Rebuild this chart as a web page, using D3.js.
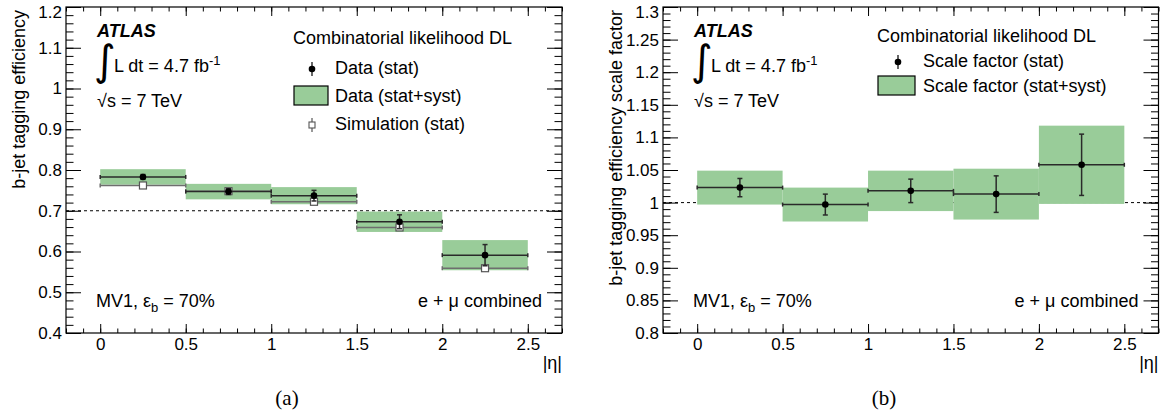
<!DOCTYPE html>
<html>
<head>
<meta charset="utf-8">
<script src="https://cdn.jsdelivr.net/npm/d3@7"></script>
<style>
    body { margin: 0; background: #ffffff; }
    svg text { font-family: "Liberation Sans", Arial, Helvetica, sans-serif; fill: #000; }
</style>
</head>
<body>
<div id="chart"></div>
<script>

// |eta| bin edges (shared by both panels)
const etaEdges = [0, 0.5, 1.0, 1.5, 2.0, 2.5];

// (a) b-jet tagging efficiency
const effData = [0.783, 0.747, 0.737, 0.673, 0.591];
const effDataStat = [0.006, 0.007, 0.013, 0.017, 0.026];
const effDataTot = [0.019, 0.019, 0.021, 0.025, 0.037];
const effSim = [0.762, 0.748, 0.722, 0.659, 0.559];
const effSimStat = [0.003, 0.003, 0.003, 0.004, 0.004];

// (b) scale factor
const sfData = [1.023, 0.997, 1.018, 1.013, 1.058];
const sfStat = [0.014, 0.016, 0.018, 0.028, 0.047];
const sfTot = [0.026, 0.026, 0.031, 0.039, 0.060];

// axis tick values
const xMajorTicks = [0, 0.5, 1, 1.5, 2, 2.5];
const effTicks = [0.4, 0.5, 0.6, 0.7, 0.8, 0.9, 1.0, 1.1, 1.2];
const sfTicks = [0.8, 0.85, 0.9, 0.95, 1.0, 1.05, 1.1, 1.15, 1.2, 1.25, 1.3];


class BinnedPanel {

    constructor(svg, cfg) {
        this.svg = svg;
        this.cfg = cfg;
        this.initVis();
    }

    initVis() {
        let vis = this;
        let cfg = vis.cfg;

        vis.width = cfg.width;
        vis.height = cfg.height;

        vis.g = vis.svg.append('g')
            .attr('transform', `translate(${cfg.left}, ${cfg.top})`);

        vis.x = d3.scaleLinear().domain([-0.2, 2.7]).range([0, vis.width]);
        vis.y = d3.scaleLinear().domain(cfg.yDomain).range([vis.height, 0]);

        vis.drawAxes();
        vis.drawData();
        vis.drawTexts();
        vis.drawLegend();
    }

    drawAxes() {
        let vis = this;
        let cfg = vis.cfg;

        let xMinor = d3.range(-2, 28).map(i => i / 10);
        let yMinor = d3.range(0, Math.round((cfg.yDomain[1] - cfg.yDomain[0]) / cfg.yMinorStep) + 1)
            .map(i => cfg.yDomain[0] + i * cfg.yMinorStep);

        let clean = g => g.select('.domain').remove();
        let tickStyle = g => g.selectAll('line').attr('stroke', '#000').attr('stroke-width', 1);

        // minor ticks on four sides
        vis.g.append('g').call(d3.axisLeft(vis.y).tickValues(yMinor).tickSizeInner(-7.5).tickFormat('')).call(clean).call(tickStyle);
        vis.g.append('g').attr('transform', `translate(${vis.width},0)`)
            .call(d3.axisRight(vis.y).tickValues(yMinor).tickSizeInner(-7.5).tickFormat('')).call(clean).call(tickStyle);
        vis.g.append('g').attr('transform', `translate(0,${vis.height})`)
            .call(d3.axisBottom(vis.x).tickValues(xMinor).tickSizeInner(-4.5).tickFormat('')).call(clean).call(tickStyle);
        vis.g.append('g')
            .call(d3.axisTop(vis.x).tickValues(xMinor).tickSizeInner(-4.5).tickFormat('')).call(clean).call(tickStyle);

        // major ticks + labels
        let yAxisG = vis.g.append('g')
            .call(d3.axisLeft(vis.y).tickValues(cfg.yTicks).tickSizeInner(-15).tickPadding(4).tickFormat(d => String(+d.toFixed(2))))
            .call(clean).call(tickStyle)
            .attr('font-size', 17).attr('font-family', null);
        // keep the top label inside the picture
        yAxisG.selectAll('.tick text')
            .filter(d => d === cfg.yTicks[cfg.yTicks.length - 1])
            .attr('dy', '0.62em');

        vis.g.append('g').attr('transform', `translate(${vis.width},0)`)
            .call(d3.axisRight(vis.y).tickValues(cfg.yTicks).tickSizeInner(-15).tickFormat(''))
            .call(clean).call(tickStyle);
        vis.g.append('g').attr('transform', `translate(0,${vis.height})`)
            .call(d3.axisBottom(vis.x).tickValues(xMajorTicks).tickSizeInner(-9).tickPadding(5).tickFormat(d => String(d)))
            .call(clean).call(tickStyle)
            .attr('font-size', 17).attr('font-family', null);
        vis.g.append('g')
            .call(d3.axisTop(vis.x).tickValues(xMajorTicks).tickSizeInner(-9).tickFormat(''))
            .call(clean).call(tickStyle);

        // frame
        vis.g.append('rect')
            .attr('width', vis.width)
            .attr('height', vis.height)
            .attr('fill', 'none')
            .attr('stroke', '#000')
            .attr('stroke-width', 1.2);

        // axis titles
        vis.g.append('text')
            .attr('transform', `translate(-41, 3) rotate(-90)`)
            .attr('text-anchor', 'end')
            .attr('font-size', 18)
            .text(cfg.yTitle);

        vis.g.append('text')
            .attr('x', vis.width)
            .attr('y', 362)
            .attr('text-anchor', 'end')
            .attr('font-size', 18)
            .text('|η|');
    }

    drawData() {
        let vis = this;
        let cfg = vis.cfg;
        let bins = etaEdges.slice(0, -1).map((lo, i) => ({lo: lo, hi: etaEdges[i + 1], mid: (lo + etaEdges[i + 1]) / 2, i: i}));

        // reference dashed line
        vis.g.append('line')
            .attr('x1', 0).attr('x2', vis.width)
            .attr('y1', vis.y(cfg.refLine)).attr('y2', vis.y(cfg.refLine))
            .attr('stroke', '#000')
            .attr('stroke-width', 1)
            .attr('stroke-dasharray', '3,3');

        // stat+syst bands
        vis.g.selectAll('rect.band').data(bins).enter().append('rect')
            .attr('class', 'band')
            .attr('x', d => vis.x(d.lo))
            .attr('width', d => vis.x(d.hi) - vis.x(d.lo))
            .attr('y', d => vis.y(cfg.values[d.i] + cfg.tot[d.i]))
            .attr('height', d => vis.y(cfg.values[d.i] - cfg.tot[d.i]) - vis.y(cfg.values[d.i] + cfg.tot[d.i]))
            .attr('fill', '#99cc99');

        // simulation (only panel a)
        if (cfg.sim) {
            vis.drawErrorBars(bins, cfg.sim, cfg.simStat, '#6e6e6e');
            vis.g.selectAll('rect.simMarker').data(bins).enter().append('rect')
                .attr('class', 'simMarker')
                .attr('x', d => vis.x(d.mid) - 3.5)
                .attr('y', d => vis.y(cfg.sim[d.i]) - 3.5)
                .attr('width', 7).attr('height', 7)
                .attr('fill', '#fff')
                .attr('stroke', '#555')
                .attr('stroke-width', 1.2);
        }

        vis.drawErrorBars(bins, cfg.values, cfg.stat, '#2a2a2a');
        vis.g.selectAll('circle.dataMarker').data(bins).enter().append('circle')
            .attr('class', 'dataMarker')
            .attr('cx', d => vis.x(d.mid))
            .attr('cy', d => vis.y(cfg.values[d.i]))
            .attr('r', 3.3)
            .attr('fill', '#000');
    }

    drawErrorBars(bins, vals, errs, color) {
        let vis = this;
        let grp = vis.g.append('g').attr('stroke', color).attr('stroke-width', 1.5);

        bins.forEach(d => {
            let cy = vis.y(vals[d.i]);
            let x0 = vis.x(d.lo), x1 = vis.x(d.hi), xm = vis.x(d.mid);
            let yt = vis.y(vals[d.i] + errs[d.i]), yb = vis.y(vals[d.i] - errs[d.i]);
            grp.append('line').attr('x1', x0).attr('x2', x1).attr('y1', cy).attr('y2', cy);
            grp.append('line').attr('x1', x0).attr('x2', x0).attr('y1', cy - 2).attr('y2', cy + 2);
            grp.append('line').attr('x1', x1).attr('x2', x1).attr('y1', cy - 2).attr('y2', cy + 2);
            grp.append('line').attr('x1', xm).attr('x2', xm).attr('y1', yt).attr('y2', yb);
            grp.append('line').attr('x1', xm - 2.5).attr('x2', xm + 2.5).attr('y1', yt).attr('y2', yt);
            grp.append('line').attr('x1', xm - 2.5).attr('x2', xm + 2.5).attr('y1', yb).attr('y2', yb);
        });
    }

    drawTexts() {
        let vis = this;

        vis.g.append('text')
            .attr('x', 31).attr('y', 30)
            .attr('font-size', 18)
            .attr('font-weight', 'bold')
            .attr('font-style', 'italic')
            .text('ATLAS');

        vis.g.append('text')
            .attr('x', 28).attr('y', 68)
            .attr('font-size', 42)
            .style('font-family', '"DejaVu Sans", sans-serif')
            .text('∫');

        let lumi = vis.g.append('text')
            .attr('x', 48).attr('y', 65)
            .attr('font-size', 18);
        lumi.append('tspan').text('L dt = 4.7 fb');
        lumi.append('tspan').attr('dy', -7).attr('font-size', 13).text('-1');

        vis.g.append('text')
            .attr('x', 31).attr('y', 100)
            .attr('font-size', 18)
            .text('√s = 7 TeV');

        let mv1 = vis.g.append('text')
            .attr('x', 30).attr('y', 300)
            .attr('font-size', 18);
        mv1.append('tspan').text('MV1, ε');
        mv1.append('tspan').attr('dy', 5).attr('font-size', 13).text('b');
        mv1.append('tspan').attr('dy', -5).text(' = 70%');

        vis.g.append('text')
            .attr('x', vis.width - 20).attr('y', 300)
            .attr('text-anchor', 'end')
            .attr('font-size', 18)
            .text('e + μ combined');

        vis.g.append('text')
            .attr('x', 221).attr('y', 398)
            .attr('text-anchor', 'middle')
            .attr('font-size', 21)
            .style('font-family', '"Liberation Serif", "Times New Roman", serif')
            .text(vis.cfg.label);
    }

    drawLegend() {
        let vis = this;
        let lg = vis.cfg.legend;
        let leg = vis.g.append('g');

        leg.append('text')
            .attr('x', lg.titleX).attr('y', lg.titleY)
            .attr('font-size', 18)
            .text('Combinatorial likelihood DL');

        lg.entries.forEach(e => {
            if (e.type === 'data') {
                leg.append('line')
                    .attr('x1', lg.markerX).attr('x2', lg.markerX)
                    .attr('y1', e.y - 12).attr('y2', e.y + 2)
                    .attr('stroke', '#000').attr('stroke-width', 1.2);
                leg.append('circle')
                    .attr('cx', lg.markerX).attr('cy', e.y - 5)
                    .attr('r', 3.3).attr('fill', '#000');
            } else if (e.type === 'band') {
                leg.append('rect')
                    .attr('x', lg.boxX).attr('y', e.y - 16)
                    .attr('width', lg.boxW).attr('height', 19)
                    .attr('fill', '#99cc99')
                    .attr('stroke', '#000').attr('stroke-width', 1.2);
            } else {
                leg.append('line')
                    .attr('x1', lg.markerX).attr('x2', lg.markerX)
                    .attr('y1', e.y - 12).attr('y2', e.y + 2)
                    .attr('stroke', '#555').attr('stroke-width', 1.2);
                leg.append('rect')
                    .attr('x', lg.markerX - 3).attr('y', e.y - 8)
                    .attr('width', 6).attr('height', 6)
                    .attr('fill', '#fff').attr('stroke', '#555').attr('stroke-width', 1.1);
            }
            leg.append('text')
                .attr('x', lg.textX).attr('y', e.y)
                .attr('font-size', 18)
                .text(e.text);
        });
    }
}


let svg = d3.select('#chart').append('svg')
    .attr('width', 1168)
    .attr('height', 419);

new BinnedPanel(svg, {
    left: 66, top: 7, width: 496, height: 326,
    yDomain: [0.4, 1.2], yTicks: effTicks, yMinorStep: 0.02,
    yTitle: 'b-jet tagging efficiency',
    refLine: 0.7,
    values: effData, stat: effDataStat, tot: effDataTot,
    sim: effSim, simStat: effSimStat,
    label: '(a)',
    legend: {
        titleX: 227, titleY: 37, markerX: 246, textX: 269, boxX: 228, boxW: 34,
        entries: [
            {type: 'data', text: 'Data (stat)', y: 67},
            {type: 'band', text: 'Data (stat+syst)', y: 95},
            {type: 'sim', text: 'Simulation (stat)', y: 123}
        ]
    }
});

new BinnedPanel(svg, {
    left: 663, top: 7, width: 495.5, height: 326,
    yDomain: [0.8, 1.3], yTicks: sfTicks, yMinorStep: 0.01,
    yTitle: 'b-jet tagging efficiency scale factor',
    refLine: 1.0,
    values: sfData, stat: sfStat, tot: sfTot,
    label: '(b)',
    legend: {
        titleX: 214, titleY: 35, markerX: 235, textX: 260, boxX: 215, boxW: 37,
        entries: [
            {type: 'data', text: 'Scale factor (stat)', y: 60},
            {type: 'band', text: 'Scale factor (stat+syst)', y: 85}
        ]
    }
});

</script>
</body>
</html>
